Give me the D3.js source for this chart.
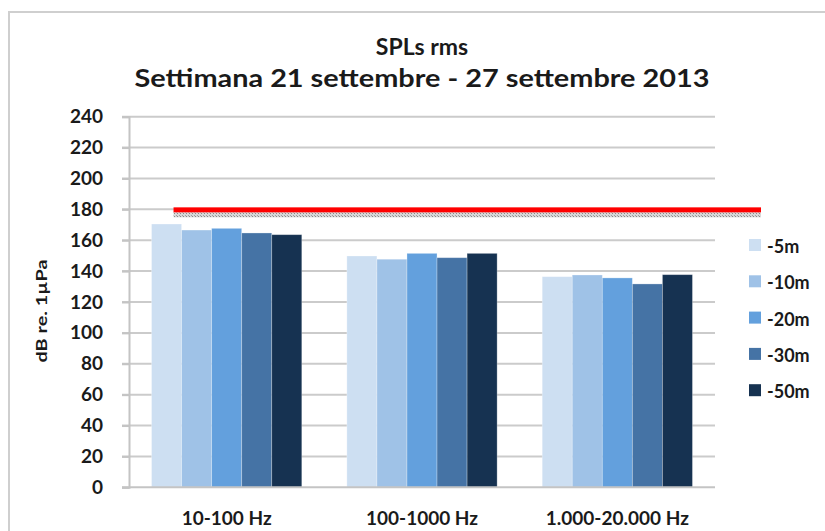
<!DOCTYPE html>
<html>
<head>
<meta charset="utf-8">
<script src="https://cdn.jsdelivr.net/npm/d3@7"></script>
<style>
  body { margin: 0; background: #fff; }
  text { font-family: Lato, "Open Sans", sans-serif; font-weight: bold; fill: #1a1a1a; }
</style>
</head>
<body>
<div id="chart"></div>
<script>
// data
const categories = ['10-100 Hz', '100-1000 Hz', '1.000-20.000 Hz'];
const series = ['-5m', '-10m', '-20m', '-30m', '-50m'];
const values = [
    [170.5, 166.6, 167.7, 164.7, 163.6],
    [149.8, 147.7, 151.5, 148.7, 151.5],
    [136.4, 137.5, 135.6, 131.7, 137.7]
];
const yTicks = [0, 20, 40, 60, 80, 100, 120, 140, 160, 180, 200, 220, 240];
const threshold = 180;
const colors = ['#cddff2', '#9fc2e7', '#63a0dd', '#4573a5', '#163251'];

const width = 825, height = 531;
const plot = { left: 129, right: 715, top: 116.7, bottom: 487.3 };

let svg = d3.select('#chart').append('svg')
    .attr('width', width)
    .attr('height', height);

let defs = svg.append('defs');
let pat = defs.append('pattern')
    .attr('id', 'hatch')
    .attr('patternUnits', 'userSpaceOnUse')
    .attr('width', 3)
    .attr('height', 3);
pat.append('rect').attr('width', 3).attr('height', 3).attr('fill', '#d8d8d8');
pat.append('rect').attr('width', 1).attr('height', 1).attr('fill', '#8a8a8a');
pat.append('rect').attr('x', 2).attr('y', 2).attr('width', 1).attr('height', 1).attr('fill', '#a0a0a0');

// chart frame
svg.append('rect')
    .attr('x', 9).attr('y', 12)
    .attr('width', 840).attr('height', 540)
    .attr('fill', 'none')
    .attr('stroke', '#cfcfcf')
    .attr('stroke-width', 2);

// titles
svg.append('text')
    .attr('x', 422).attr('y', 55)
    .attr('text-anchor', 'middle')
    .style('font-size', '23px')
    .text('SPLs rms');
svg.append('text')
    .attr('x', 422).attr('y', 87)
    .attr('text-anchor', 'middle')
    .attr('textLength', 575)
    .attr('lengthAdjust', 'spacingAndGlyphs')
    .style('font-size', '24px')
    .text('Settimana 21 settembre - 27 settembre 2013');

let y = d3.scaleLinear().domain([0, 240]).range([plot.bottom, plot.top]);
let x0 = d3.scaleBand().domain(categories).range([plot.left, plot.right]).paddingInner(0).paddingOuter(0);
// Excel gap width 150% => 0.75 bar width each side
let x1 = d3.scaleBand().domain(series)
    .range([x0.bandwidth() * 0.75 / 6.5, x0.bandwidth() * (1 - 0.75 / 6.5)])
    .paddingInner(0).paddingOuter(0);

// gridlines
svg.append('g')
    .selectAll('line')
    .data(yTicks.filter(d => d > 0))
    .join('line')
    .attr('x1', plot.left - 7)
    .attr('x2', plot.right)
    .attr('y1', d => y(d))
    .attr('y2', d => y(d))
    .attr('stroke', '#cbcbcb')
    .attr('stroke-width', 2);

// bars
let groups = svg.append('g')
    .selectAll('g')
    .data(values)
    .join('g')
    .attr('transform', (d, i) => `translate(${x0(categories[i])},0)`);

groups.selectAll('rect')
    .data(d => d)
    .join('rect')
    .attr('x', (d, i) => x1(series[i]))
    .attr('y', d => y(d))
    .attr('width', x1.bandwidth())
    .attr('height', d => y(0) - y(d))
    .attr('fill', (d, i) => colors[i])
    .attr('stroke', 'rgba(255,255,255,0.35)')
    .attr('stroke-width', 0.8);

// y axis
let yAxis = svg.append('g')
    .attr('transform', `translate(${plot.left},0)`)
    .call(d3.axisLeft(y).tickValues(yTicks).tickSize(7).tickPadding(19));
yAxis.select('.domain').attr('stroke', '#c4c4c4').attr('stroke-width', 2);
yAxis.selectAll('.tick line').attr('stroke', '#c4c4c4').attr('stroke-width', 2);
yAxis.selectAll('.tick text')
    .style('font-family', 'Lato, sans-serif')
    .style('font-weight', 'bold')
    .style('font-size', '19px')
    .attr('fill', '#1a1a1a');

// x axis baseline
svg.append('line')
    .attr('x1', plot.left - 7).attr('x2', plot.right)
    .attr('y1', y(0)).attr('y2', y(0))
    .attr('stroke', '#c4c4c4')
    .attr('stroke-width', 2);

svg.append('g')
    .selectAll('text')
    .data(categories)
    .join('text')
    .attr('x', d => x0(d) + x0.bandwidth() / 2)
    .attr('y', 525)
    .attr('text-anchor', 'middle')
    .style('font-size', '19px')
    .text(d => d);

// y axis title
svg.append('text')
    .attr('transform', `translate(47,311) rotate(-90)`)
    .attr('text-anchor', 'middle')
    .attr('textLength', 103)
    .attr('lengthAdjust', 'spacingAndGlyphs')
    .style('font-size', '16px')
    .text('dB re. 1µPa');

// threshold line with shadow
let tx0 = x0(categories[0]) + x1(series[0]) + 22;
svg.append('rect')
    .attr('x', tx0).attr('y', y(threshold) + 3)
    .attr('width', 761 - tx0).attr('height', 5)
    .attr('fill', 'url(#hatch)');
svg.append('rect')
    .attr('x', tx0).attr('y', y(threshold) - 2)
    .attr('width', 761 - tx0).attr('height', 5)
    .attr('fill', '#ff0000');

// legend
let legend = svg.append('g')
    .selectAll('g')
    .data(series)
    .join('g')
    .attr('transform', (d, i) => `translate(749,${239 + i * 36.3})`);
legend.append('rect')
    .attr('width', 12).attr('height', 12)
    .attr('fill', (d, i) => colors[i]);
legend.append('text')
    .attr('x', 18).attr('y', 14)
    .style('font-size', '18px')
    .text(d => d);
</script>
</body>
</html>
